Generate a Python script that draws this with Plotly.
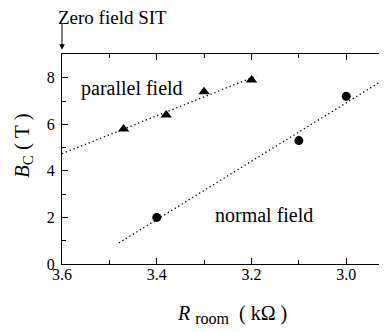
import numpy as np
import plotly.graph_objects as go

# Data
par_x = [3.47, 3.38, 3.30, 3.20]
par_y = [5.8, 6.4, 7.4, 7.9]
norm_x = [3.40, 3.10, 3.00]
norm_y = [2.0, 5.3, 7.2]

# Fit-line extents (x range of the dotted lines)
par_fit_range = [3.6, 3.19]
norm_fit_range = [3.48, 2.85]

x_ticks = [3.6, 3.4, 3.2, 3.0]
y_ticks = [0, 2, 4, 6, 8]

# Position of the "Zero field SIT" arrow on the x axis
sit_x = 3.6

FONT = "Liberation Serif"
DOT = "1.3px,2.8px"


def fit_line(xs, ys, xr):
    k, b = np.polyfit(xs, ys, 1)
    xx = np.array(xr)
    return xx, k * xx + b


fig = go.Figure()

fx, fy = fit_line(par_x, par_y, par_fit_range)
fig.add_trace(go.Scatter(x=fx, y=fy, mode="lines",
                         line=dict(color="black", width=1.3, dash=DOT),
                         showlegend=False, hoverinfo="skip"))
fx, fy = fit_line(norm_x, norm_y, norm_fit_range)
fig.add_trace(go.Scatter(x=fx, y=fy, mode="lines",
                         line=dict(color="black", width=1.3, dash=DOT),
                         showlegend=False, hoverinfo="skip"))

fig.add_trace(go.Scatter(x=par_x, y=par_y, mode="markers",
                         marker=dict(symbol="triangle-up", size=10, color="black"),
                         showlegend=False))
fig.add_trace(go.Scatter(x=norm_x, y=norm_y, mode="markers",
                         marker=dict(symbol="circle", size=9, color="black"),
                         showlegend=False))

# page body has an 8px margin, so the figure is 8px smaller than the window
fig.update_layout(
    width=379, height=324,
    margin=dict(l=54, r=0, t=46, b=68, autoexpand=False),
    paper_bgcolor="white", plot_bgcolor="white",
    font=dict(family=FONT, size=15, color="black"),
    showlegend=False,
    xaxis=dict(range=[3.6, 2.914], autorange=False, automargin=False,
               tickvals=x_ticks, ticktext=[f"{v:.1f}" for v in x_ticks],
               ticks="inside", ticklen=6, tickwidth=1, tickcolor="black",
               minor=dict(dtick=0.1, tick0=3.0, ticks="inside", ticklen=4,
                          tickcolor="black", tickwidth=1),
               showline=True, linecolor="black", linewidth=1.2, mirror="ticks",
               showgrid=False, zeroline=False, ticklabelstandoff=-4,
               tickfont=dict(family=FONT, size=16)),
    yaxis=dict(range=[0, 9.02], autorange=False, automargin=False,
               tickvals=y_ticks,
               ticks="inside", ticklen=6, tickwidth=1, tickcolor="black",
               minor=dict(dtick=1, tick0=0, ticks="inside", ticklen=4,
                          tickcolor="black", tickwidth=1),
               showline=True, linecolor="black", linewidth=1.2, mirror=False,
               showgrid=False, zeroline=False, ticklabelstandoff=3,
               tickfont=dict(family=FONT, size=16)),
)

# axis titles
fig.add_annotation(x=(232 - 62) / 325, y=-0.17, xref="paper", yref="paper",
                   text="<i>R</i> <sub><span style='font-size:16px'>room</span></sub>  ( kΩ )",
                   showarrow=False, xanchor="center", yanchor="top",
                   font=dict(family=FONT, size=20))
fig.add_annotation(x=(23 - 62) / 325, y=0.562, xref="paper", yref="paper",
                   text="<i>B</i><sub><span style='font-size:15px'>C</span></sub> ( T )",
                   textangle=-90, showarrow=False,
                   xanchor="center", yanchor="middle",
                   font=dict(family=FONT, size=21))

# "Zero field SIT" label and arrow
fig.add_annotation(x=sit_x - (112 - 62) / 473.5, y=1.172, xref="x", yref="paper",
                   showarrow=False, text="Zero field SIT",
                   xanchor="center", yanchor="middle",
                   font=dict(family=FONT, size=19))
fig.add_annotation(x=sit_x, y=1.02, xref="x", yref="paper", text="",
                   showarrow=True, ax=0, ay=-28, arrowhead=2, arrowsize=1.1,
                   arrowwidth=1, arrowcolor="black")

fig.add_annotation(x=3.452, y=7.55, xref="x", yref="y", text="parallel field",
                   showarrow=False, font=dict(family=FONT, size=20))
fig.add_annotation(x=3.173, y=2.1, xref="x", yref="y", text="normal field",
                   showarrow=False, font=dict(family=FONT, size=20))

fig.write_html("out.html")
